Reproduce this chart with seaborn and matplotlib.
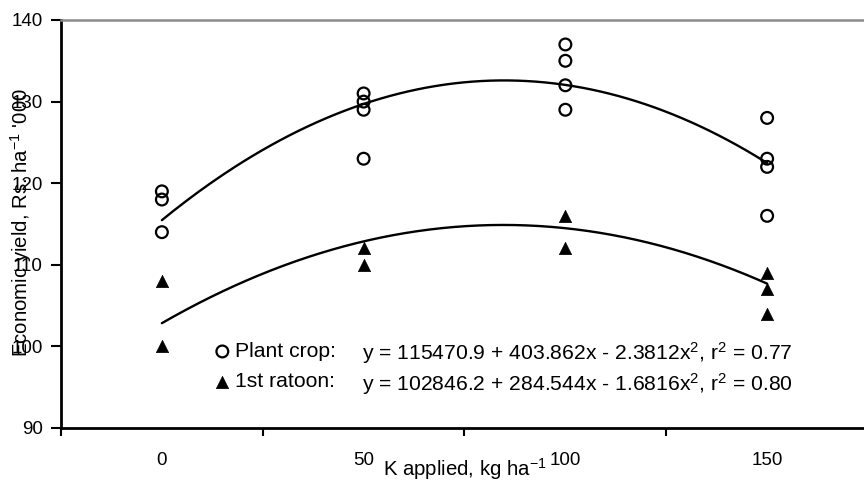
import numpy as np
import pandas as pd
import matplotlib
matplotlib.use("Agg")
import matplotlib.pyplot as plt
import seaborn as sns

# ---- data ----
k_levels = [0, 50, 100, 150]
tick_labels = ["0", "50", "100", "150"]
plant_k = [0, 0, 0, 50, 50, 50, 50, 100, 100, 100, 100, 150, 150, 150, 150]
plant_yield = [119, 118, 114, 131, 130, 129, 123, 137, 135, 132, 129, 128, 123, 122, 116]
ratoon_k = [0, 0, 50, 50, 100, 100, 150, 150, 150]
ratoon_yield = [108, 100, 112, 110, 116, 112, 109, 107, 104]
plant_coef = [115470.9, 403.862, -2.3812]
ratoon_coef = [102846.2, 284.544, -1.6816]
plant_label = "Plant crop:"
ratoon_label = "1st ratoon:"
plant_eq = "y = 115470.9 + 403.862x - 2.3812x$^{2}$, r$^{2}$ = 0.77"
ratoon_eq = "y = 102846.2 + 284.544x - 1.6816x$^{2}$, r$^{2}$ = 0.80"
x_title = "K applied, kg ha$^{-1}$"
y_title = "Economic yield, Rs. ha$^{-1}$ '000"

sns.set_theme(style="white")
plt.rcParams["font.family"] = ["Liberation Sans", "DejaVu Sans"]
plt.rcParams["mathtext.fontset"] = "custom"
plt.rcParams["mathtext.rm"] = "Liberation Sans"
plt.rcParams["mathtext.it"] = "Liberation Sans:italic"
plt.rcParams["mathtext.bf"] = "Liberation Sans:bold"
FS_TICK = 13.5
FS_TITLE = 14.7
FS_LEG = 15.2

fig = plt.figure(figsize=(8.64, 4.82), dpi=100)
W, H = 864, 482
ax_l, ax_r, ax_t, ax_b = 61, 868, 20, 428
ax = fig.add_axes([ax_l / W, 1 - ax_b / H, (ax_r - ax_l) / W, (ax_b - ax_t) / H])
AW, AH = ax_r - ax_l, ax_b - ax_t

xs = np.linspace(min(k_levels), max(k_levels), 200)
curves = pd.DataFrame({
    "x": np.concatenate([xs, xs]),
    "y": np.concatenate([
        (plant_coef[0] + plant_coef[1] * xs + plant_coef[2] * xs ** 2) / 1000,
        (ratoon_coef[0] + ratoon_coef[1] * xs + ratoon_coef[2] * xs ** 2) / 1000,
    ]),
    "crop": ["plant"] * len(xs) + ["ratoon"] * len(xs),
})
sns.lineplot(data=curves, x="x", y="y", units="crop", estimator=None,
             color="black", linewidth=1.7, ax=ax, legend=False)

ax.scatter(plant_k, plant_yield, marker="o", s=72, facecolors="none",
           edgecolors="black", linewidths=1.6, zorder=3, label=plant_label)
ax.scatter(ratoon_k, ratoon_yield, marker="^", s=78, facecolors="black",
           edgecolors="black", linewidths=0.5, zorder=3, label=ratoon_label)

ax.set_xlim(-25, 175)
ax.set_ylim(90, 140)
ax.set_yticks([90, 100, 110, 120, 130, 140])
ax.set_xticks([-25, 25, 75, 125, 175])
ax.set_xticklabels([])
ax.set_xticks(k_levels, minor=True)
ax.set_xticklabels(tick_labels, minor=True)
ax.tick_params(axis="x", which="major", direction="out", length=6, width=1.5, color="black")
ax.tick_params(axis="x", which="minor", length=0, pad=17, labelsize=FS_TICK, labelcolor="black")
ax.tick_params(axis="y", which="major", direction="out", length=7, width=1.5,
               color="black", pad=6, labelsize=FS_TICK, labelcolor="black")
ax.tick_params(left=True, bottom=True)
ax.tick_params(axis="x", which="minor", bottom=True)

for s in ["left", "bottom"]:
    ax.spines[s].set_color("black")
    ax.spines[s].set_linewidth(2)
ax.spines["right"].set_visible(False)
ax.spines["top"].set_color("#8c8c8c")
ax.spines["top"].set_linewidth(1.8)
ax.grid(False)

ax.set_xlabel(x_title, fontsize=FS_TITLE, color="black")
ax.xaxis.set_label_coords(0.5, -(469 - ax_b) / AH)
ax.xaxis.label.set_va("center")
ax.set_ylabel(y_title, fontsize=FS_TITLE, color="black")
ax.yaxis.set_label_coords((21 - ax_l) / AW, (ax_b - 223) / AH)
ax.yaxis.label.set_va("center")

leg = ax.legend(loc="upper left",
                bbox_to_anchor=((216 - ax_l) / AW, (ax_b - 342) / AH),
                frameon=False, fontsize=FS_LEG, handlelength=0.6, handletextpad=0.3,
                borderpad=0, borderaxespad=0, labelspacing=0.53, scatterpoints=1)
for t in leg.get_texts():
    t.set_color("black")

ax.text((362 - ax_l) / AW, (ax_b - 359.5) / AH, plant_eq,
        transform=ax.transAxes, fontsize=FS_LEG, va="baseline", ha="left", color="black")
ax.text((362 - ax_l) / AW, (ax_b - 390.5) / AH, ratoon_eq,
        transform=ax.transAxes, fontsize=FS_LEG, va="baseline", ha="left", color="black")

fig.savefig("out.png", dpi=100)
